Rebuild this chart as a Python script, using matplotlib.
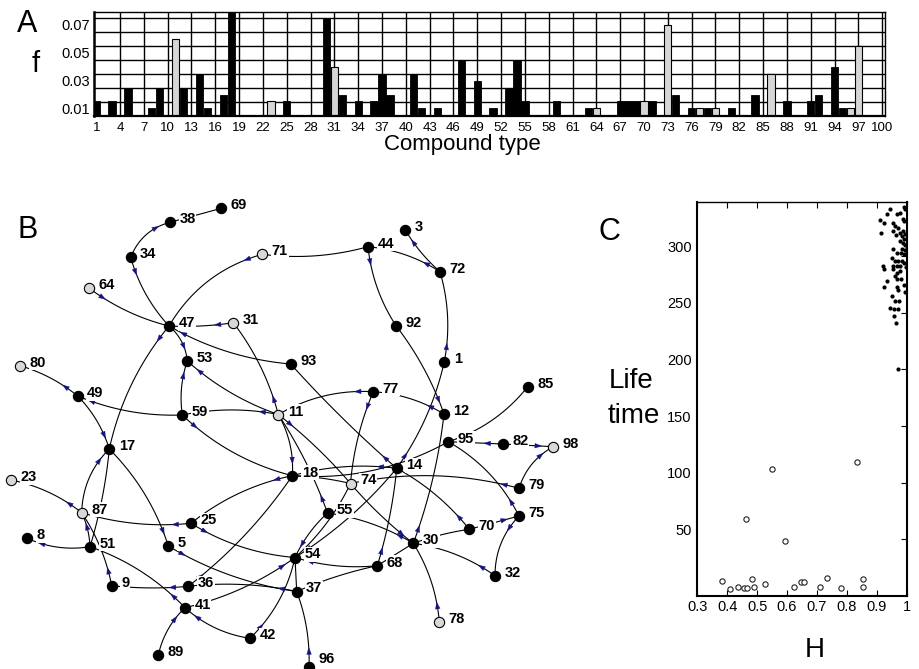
import numpy as np
import matplotlib
matplotlib.use('Agg')
import matplotlib.pyplot as plt
import matplotlib.transforms as mtransforms
from matplotlib.patches import Polygon

plt.rcParams['font.family'] = 'Liberation Sans'

# ---------------- panel A data: frequency f of each compound type
black_types = [1, 3, 5, 8, 9, 12, 14, 15, 17, 18,
               25, 30, 32, 34, 36, 37, 38, 41, 42, 44,
               47, 49, 51, 53, 54, 55, 59, 63, 67, 68,
               69, 71, 74, 76, 78, 81, 84, 88, 91, 92,
               94, 95]
black_f = [0.0155, 0.0155, 0.025, 0.0105, 0.025, 0.025, 0.035, 0.0105, 0.02, 0.085,
           0.0155, 0.075, 0.02, 0.0155, 0.0155, 0.035, 0.02, 0.035, 0.0105, 0.0105,
           0.045, 0.03, 0.0105, 0.025, 0.045, 0.0155, 0.0155, 0.0105, 0.0155, 0.0155,
           0.0155, 0.0155, 0.02, 0.0105, 0.0105, 0.0105, 0.02, 0.0155, 0.0155, 0.02,
           0.04, 0.0105]
grey_types = [11, 23, 31, 64, 70, 73, 77, 79, 86, 96, 97]
grey_f = [0.06, 0.0155, 0.04, 0.0105, 0.0155, 0.07, 0.0105, 0.0105, 0.035, 0.0105, 0.055]
f_base = 0.005

# ---------------- panel B data: network nodes (layout) and edges
node_pos = {
    1: (444.3, 361.7), 3: (405.3, 230), 5: (168.3, 546), 8: (27.3, 538.3),
    9: (111.7, 585.7), 11: (278.3, 414.5), 12: (444, 414), 14: (396.7, 468.3),
    17: (109.3, 449), 18: (292.3, 475.7), 23: (11, 480), 25: (191, 523.3),
    30: (413.3, 543.3), 31: (233.3, 322.7), 32: (495, 575.7), 34: (130.7, 257.3),
    36: (188.3, 586.3), 37: (296.7, 591.5), 38: (170, 222.3), 41: (185, 607.7),
    42: (250, 638.3), 44: (368, 246.7), 47: (169, 326), 49: (77.7, 396),
    51: (90, 546.7), 53: (187.3, 361), 54: (295, 557.5), 55: (327.5, 513),
    59: (182.3, 415), 64: (89.3, 288.3), 68: (377.3, 565.7), 69: (221.3, 208.3),
    70: (469.3, 529.3), 71: (262.3, 254.3), 72: (440, 271.7), 74: (350.5, 483.5),
    75: (519, 516), 77: (373.3, 391.7), 78: (439.3, 621.7), 79: (519, 488.3),
    80: (20, 365.7), 82: (502.7, 444), 85: (527.7, 386.7), 87: (81.7, 512.7),
    89: (158.3, 655), 92: (396, 325.7), 93: (290.7, 364), 95: (448.3, 441.7),
    96: (309, 667), 98: (553.3, 446.7),
}
grey_nodes = [11, 23, 31, 64, 71, 74, 78, 80, 87, 98]

# (node with the arrow, other node, bend, arrow sense: +1 away, -1 into, 0 none)
edges = [
    (38, 69, 0.0, 0), (38, 34, -0.25, -1), (34, 47, -0.12, 1), (64, 47, -0.1, 1),
    (71, 47, -0.2, 1), (71, 44, -0.1, -1), (31, 47, 0.05, 1), (11, 31, -0.1, 1),
    (53, 47, -0.2, -1), (47, 93, -0.11, -1), (47, 17, -0.12, 1), (53, 11, -0.1, -1),
    (53, 59, -0.12, -1), (49, 59, -0.11, -1), (11, 59, -0.1, 1), (59, 18, -0.13, 1),
    (49, 80, -0.1, 1), (17, 49, -0.12, -1), (17, 87, -0.2, -1), (5, 17, -0.12, -1),
    (17, 51, 0.05, 0), (87, 23, -0.12, 1), (87, 51, 0.1, -1), (25, 87, 0.1, 1),
    (9, 87, -0.1, 1), (8, 51, -0.15, -1), (41, 51, -0.12, 1), (36, 9, 0.05, 1),
    (18, 25, -0.12, 1), (25, 54, -0.12, 1), (5, 37, -0.1, 1), (36, 18, -0.08, 1),
    (37, 36, -0.08, 1), (54, 41, 0.1, -1), (41, 89, -0.15, -1), (41, 42, -0.15, -1),
    (42, 54, -0.15, 1), (96, 37, -0.1, 1), (18, 11, -0.15, -1), (11, 74, 0.05, 1),
    (55, 11, -0.06, 1), (18, 74, 0.05, -1), (14, 18, -0.1, 1), (18, 95, -0.15, 0),
    (79, 74, -0.12, 1), (82, 95, 0.0, 1), (98, 82, 0.0, -1), (98, 79, -0.2, -1),
    (75, 95, -0.15, 1), (75, 70, 0.0, -1), (75, 32, -0.2, 1), (70, 14, -0.1, 1),
    (32, 30, -0.12, 1), (30, 74, 0.05, -1), (30, 55, -0.1, 1), (30, 12, -0.06, 1),
    (78, 30, -0.12, 1), (68, 14, -0.05, 1), (54, 68, -0.1, -1), (54, 14, -0.08, -1),
    (54, 55, 0.1, -1), (54, 74, -0.1, 0), (37, 54, 0.0, 0), (37, 68, 0.05, 0),
    (68, 30, 0.0, 0), (30, 70, 0.05, 0), (95, 85, -0.15, 0), (14, 93, 0.03, 1),
    (14, 1, -0.1, 1), (77, 74, -0.08, 1), (77, 11, -0.15, 1), (12, 77, -0.12, 1),
    (12, 92, -0.08, -1), (1, 72, -0.12, 1), (3, 72, -0.08, -1), (72, 44, -0.12, 1),
    (44, 92, -0.12, 1),
]

# ---------------- panel C data: life time vs H
H_open = [0.383, 0.409, 0.437, 0.455, 0.467, 0.483, 0.489, 0.525, 0.462, 0.549,
          0.592, 0.622, 0.647, 0.658, 0.711, 0.735, 0.781, 0.835, 0.855, 0.853]
life_open = [13.2, 6.4, 8.2, 7.0, 7.0, 14.7, 8.2, 10.2, 67.6, 112.3,
             48.2, 8.2, 12.3, 12.3, 8.2, 15.5, 7.3, 118.2, 14.7, 8.2]
H_dot = [0.944, 0.911, 0.924, 0.913, 0.933, 0.967, 0.978, 0.991, 0.994, 0.989,
         0.991, 0.955, 0.961, 0.972, 0.953, 0.964, 0.978, 0.989, 0.983, 0.994,
         0.991, 0.978, 0.987, 0.955, 0.967, 0.980, 0.991, 0.950, 0.961, 0.953,
         0.972, 0.983, 0.967, 0.922, 0.924, 0.978, 0.991, 0.955, 0.967, 0.978,
         0.961, 0.969, 0.935, 0.924, 0.969, 0.991, 0.972, 0.950, 0.961, 0.975,
         0.944, 0.958, 0.972, 0.958, 0.964, 0.971, 0.995, 0.993, 0.996, 0.994,
         0.985, 0.980]
life_dot = [341.2, 331.8, 329.4, 320.6, 336.8, 336.8, 338.2, 343.5, 341.2, 332.9,
            330.9, 328.8, 326.5, 325.0, 322.1, 318.2, 320.6, 322.1, 317.6, 319.1,
            314.7, 313.2, 311.8, 305.9, 302.9, 302.9, 301.5, 298.5, 295.6, 291.2,
            295.6, 295.6, 291.2, 291.2, 288.2, 291.2, 294.1, 288.2, 285.3, 286.7,
            282.3, 279.4, 277.9, 272.9, 272.9, 274.1, 270.0, 264.7, 260.3, 260.3,
            254.4, 252.9, 252.9, 247.0, 240.6, 200.5, 310.0, 305.0, 290.0, 268.0,
            306.0, 280.0]

W, H = 919, 669
fig = plt.figure(figsize=(W / 100, H / 100), dpi=100)


def fx(px):
    return px / W


def fy(py):
    return 1 - py / H


# ================= panel B (drawn in pixel-like coordinates)
axB = fig.add_axes([0, 0, 1, 1])
axB.set_xlim(0, W)
axB.set_ylim(H, 0)
axB.axis('off')


def bezier(p0, p1, rad, n=80):
    p0 = np.asarray(p0, float)
    p1 = np.asarray(p1, float)
    d = p1 - p0
    ctrl = (p0 + p1) / 2 + rad * np.array([d[1], -d[0]])
    t = np.linspace(0, 1, n)[:, None]
    return (1 - t) ** 2 * p0 + 2 * (1 - t) * t * ctrl + t ** 2 * p1


for near, far, rad, sense in edges:
    pts = bezier(node_pos[near], node_pos[far], rad)
    axB.plot(pts[:, 0], pts[:, 1], color='black', lw=0.8, zorder=2)
    if sense == 0:
        continue
    dist = np.hypot(*(pts - pts[0]).T)
    i = int(np.clip(np.searchsorted(dist, 15), 1, len(pts) - 2))
    tang = pts[i + 1] - pts[i - 1]
    tang = tang / np.hypot(*tang)
    if sense < 0:
        tang = -tang
    nrm = np.array([-tang[1], tang[0]])
    tip = pts[i] + tang * 3.5
    base = pts[i] - tang * 3.0
    tri = [tip, base + nrm * 2.3, base - nrm * 2.3]
    axB.add_patch(Polygon(tri, closed=True, fc='#141480', ec='#141480', lw=0.3, zorder=3))

for n, (x, y) in node_pos.items():
    fc = '#d8d8d8' if n in grey_nodes else 'black'
    axB.plot(x, y, 'o', ms=7.4, mfc=fc, mec='black', mew=0.8, zorder=5)
    dy = -8 if y > 660 else -3
    axB.text(x + 9.5, y + dy, str(n), fontsize=10.5, fontweight='bold', ha='left', va='center',
             zorder=4, bbox=dict(boxstyle='square,pad=0.05', fc='white', ec='none'))

# ================= panel A
axA = fig.add_axes([fx(94.3), fy(116), fx(885) - fx(94.3), fy(11.7) - fy(116)])
for gx in range(4, 101, 3):
    axA.axvline(gx, color='black', lw=1.0, zorder=0)
for gy in np.arange(0.015, 0.08, 0.01):
    axA.axhline(gy, color='black', lw=1.0, zorder=0)
axA.bar(black_types, np.array(black_f) - f_base, bottom=f_base, width=0.92,
        color='black', edgecolor='black', lw=0.6, zorder=2)
axA.bar(grey_types, np.array(grey_f) - f_base, bottom=f_base, width=0.92,
        color='#d6d6d6', edgecolor='black', lw=0.8, zorder=2)
axA.set_xlim(0.76, 100.36)
axA.set_ylim(f_base, 0.0795)
axA.set_xticks(range(1, 101, 3))
axA.set_xticklabels([str(v) for v in range(1, 101, 3)], fontsize=9.5)
axA.set_yticks([0.01, 0.03, 0.05, 0.07])
axA.set_yticklabels(['0.01', '0.03', '0.05', '0.07'], fontsize=10.5)
axA.tick_params(length=0, pad=3)
axA.tick_params(axis='x', pad=4)
axA.spines['left'].set_linewidth(1.8)
axA.spines['bottom'].set_linewidth(1.6)
axA.spines['top'].set_linewidth(1.0)
axA.spines['right'].set_linewidth(1.0)

# ================= panel C
axC = fig.add_axes([fx(697.3), fy(596), fx(906.7) - fx(697.3), fy(201.7) - fy(596)])
axC.plot(H_open, life_open, 'o', ms=3.8, mfc='white', mec='#222222', mew=0.8, zorder=3)
axC.plot(H_dot, life_dot, 'o', ms=3.0, color='black', mew=0, zorder=3)
axC.set_xlim(0.3, 1.0)
axC.set_ylim(0, 348)
axC.set_xticks([0.3, 0.4, 0.5, 0.6, 0.7, 0.8, 0.9, 1.0])
axC.set_xticklabels(['0.3', '0.4', '0.5', '0.6', '0.7', '0.8', '0.9', '1'], fontsize=10.5)
axC.set_yticks([50, 100, 150, 200, 250, 300])
axC.set_yticklabels(['50', '100', '150', '200', '250', '300'], fontsize=10.5)
axC.tick_params(axis='x', direction='in', top=True, bottom=True, length=4, pad=3)
axC.tick_params(axis='y', direction='in', left=False, right=True, labelleft=True, length=4, pad=4)
shift = mtransforms.ScaledTranslation(0, 0.10, fig.dpi_scale_trans)
for lab in axC.get_yticklabels():
    lab.set_transform(lab.get_transform() + shift)
for side, w in [('left', 1.5), ('bottom', 1.5), ('right', 1.5), ('top', 1.0)]:
    axC.spines[side].set_linewidth(w)

# ================= panel letters and axis titles
fig.text(fx(17), fy(32), 'A', fontsize=22, ha='left', va='baseline')
fig.text(fx(18), fy(238), 'B', fontsize=22, ha='left', va='baseline')
fig.text(fx(598), fy(240), 'C', fontsize=22, ha='left', va='baseline')
fig.text(fx(32), fy(72), 'f', fontsize=21, ha='left', va='baseline')
fig.text(fx(462), fy(150), 'Compound type', fontsize=16, ha='center', va='baseline')
fig.text(fx(609), fy(388), 'Life', fontsize=20, ha='left', va='baseline')
fig.text(fx(608), fy(423), 'time', fontsize=20, ha='left', va='baseline')
fig.text(fx(805), fy(657), 'H', fontsize=20, ha='left', va='baseline')

fig.savefig('out.png', dpi=100)
